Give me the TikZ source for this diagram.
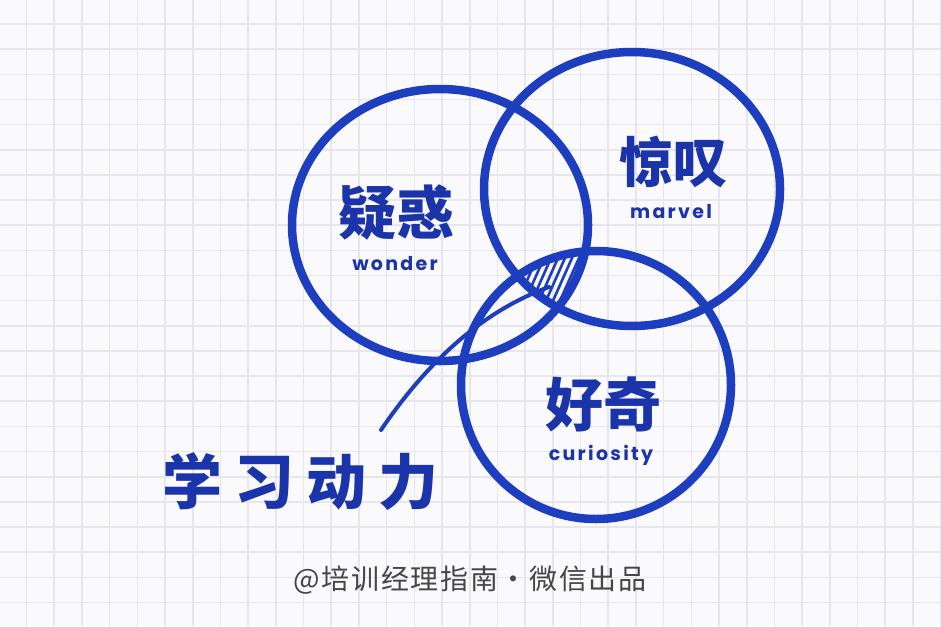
\documentclass[tikz,border=0pt]{standalone}
\usepackage{fontspec}
\newfontfamily\cjk{Noto Sans CJK SC}
\newfontfamily\cjkfoot[LetterSpace=6]{Noto Sans CJK SC}
\newfontfamily\latinhand[LetterSpace=12]{Poppins}
\usetikzlibrary{shapes.geometric}
\definecolor{inkblue}{RGB}{30,62,192}
\definecolor{textblue}{RGB}{28,52,170}
\definecolor{gridgray}{RGB}{230,230,236}
\definecolor{paper}{RGB}{250,250,252}
\definecolor{footgray}{RGB}{70,70,70}
\tikzset{
  ring/.style={draw=inkblue, line width=8.5pt, ellipse, inner sep=0pt},
  bigcn/.style={text=textblue, font=\cjk\bfseries\fontsize{58}{60}\selectfont, inner sep=0pt},
  engl/.style={text=textblue, font=\latinhand\bfseries\fontsize{19}{20}\selectfont, inner sep=0pt},
  gridline/.style={draw=gridgray, line width=1.6pt},
}
\begin{document}
\begin{tikzpicture}[x=1pt,y=-1pt]
\useasboundingbox (0,0) rectangle (941,626);
\fill[paper] (0,0) rectangle (941,626);
% grid
\foreach \k in {0,...,33} \draw[gridline] ({26.5+27.7*\k},0) -- ({26.5+27.7*\k},626);
\foreach \k in {0,...,23} \draw[gridline] (0,{24+25.15*\k}) -- (941,{24+25.15*\k});
% hatched triple intersection
\begin{scope}
  \clip (440,225) ellipse [x radius=148pt, y radius=136pt];
  \clip (632,189) ellipse [x radius=148pt, y radius=137pt];
  \clip (596,385) ellipse [x radius=135pt, y radius=134pt];
  \foreach \i in {470,477,...,600} \draw[inkblue, line width=2.6pt] (\i,330) -- ++(40,-90);
\end{scope}
% circles
\node[ring, minimum width=296pt, minimum height=272pt] (wonder) at (440,225) {};
\node[ring, minimum width=296pt, minimum height=274pt] (marvel) at (632,189) {};
\node[ring, minimum width=270pt, minimum height=268pt] (curio) at (596,385) {};
% labels
\node[bigcn] (t1) at (396,212) {疑惑};
\node[engl] (e1) at (395,264) {wonder};
\node[bigcn, font=\cjk\bfseries\fontsize{54}{56}\selectfont] (t2) at (673,162) {惊叹};
\node[engl] (e2) at (671,212) {marvel};
\node[bigcn] (t3) at (603,404) {好奇};
\node[engl] (e3) at (601,455) {curiosity};
\node[bigcn, font=\cjk\bfseries\fontsize{60}{62}\selectfont] (t4) at (300,482) {学\hspace{12pt}习\hspace{12pt}动\hspace{12pt}力};
% pointer curve
\coordinate (tip) at (549,287);
\coordinate (tail) at (381,430);
\draw[inkblue, line width=4pt, line cap=round] (tail) .. controls (425,365) and (480,312) .. (tip);
% footer
\node[text=footgray, font=\cjkfoot\fontsize{28}{29}\selectfont, inner sep=0pt] (foot) at (470,580) {@培训经理指南·微信出品};
\end{tikzpicture}
\end{document}
